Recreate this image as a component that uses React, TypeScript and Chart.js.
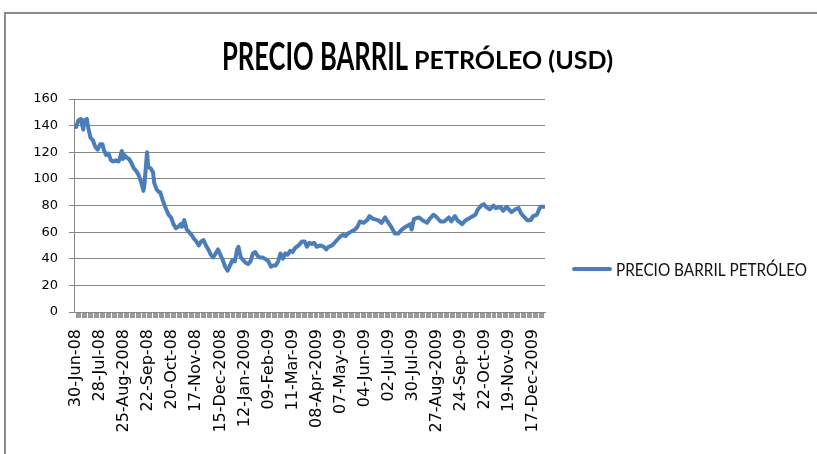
import React, { useEffect, useRef } from 'react';
import { Chart, registerables } from 'chart.js';

Chart.register(...registerables);

const titleMain = 'PRECIO BARRIL';
const titleSub = 'PETRÓLEO (USD)';
const seriesName = 'PRECIO BARRIL PETRÓLEO';

const tickLabels = [
  '30-Jun-08', '28-Jul-08', '25-Aug-2008', '22-Sep-08', '20-Oct-08',
  '17-Nov-08', '15-Dec-2008', '12-Jan-2009', '09-Feb-09', '11-Mar-09',
  '08-Apr-2009', '07-May-09', '04-Jun-09', '02-Jul-09', '30-Jul-09',
  '27-Aug-2009', '24-Sep-09', '22-Oct-09', '19-Nov-09', '17-Dec-2009',
];
const LABEL_EVERY = 20;
const TOTAL_DAYS = 390;

const yTicks = [0, 20, 40, 60, 80, 100, 120, 140, 160];

// trading-day index (0 = 30-Jun-08) and price in USD
const dayIndex = [
  0, 2, 4, 6, 7, 9, 10, 12, 14, 16, 18, 20, 22, 23, 25, 27, 29, 31, 33, 35,
  36, 38, 39, 40, 42, 44, 46, 48, 50, 52, 54, 56, 57, 59, 60, 62, 64, 65, 67, 69,
  70, 72, 75, 77, 79, 81, 83, 85, 87, 88, 90, 92, 94, 96, 98, 100, 102, 104, 106, 108,
  110, 112, 114, 116, 118, 120, 122, 124, 126, 128, 130, 132, 134, 135, 137, 139, 141, 143, 145, 147,
  149, 151, 153, 155, 157, 160, 162, 164, 166, 168, 170, 172, 174, 176, 178, 180, 182, 185, 188, 190,
  192, 194, 196, 198, 200, 203, 206, 208, 210, 213, 215, 218, 220, 222, 224, 226, 228, 230, 232, 234,
  236, 239, 242, 244, 247, 251, 254, 257, 259, 262, 265, 268, 271, 274, 278, 279, 281, 285, 288, 292,
  294, 297, 299, 303, 306, 310, 312, 315, 317, 321, 324, 328, 332, 334, 337, 339, 341, 344, 347, 349,
  353, 355, 358, 362, 365, 368, 370, 372, 375, 378, 380, 383, 386, 388, 389,
];
const price = [
  139, 144, 145, 137, 144, 145, 139, 131, 129, 124, 122, 126, 126, 122, 118, 119, 114, 113, 114, 113,
  114, 121, 115, 118, 116, 115, 112, 108, 106, 103, 98, 91, 97, 120, 109, 108, 105, 97, 92, 90,
  90, 84, 77, 73, 71, 66, 63, 64, 66, 64, 69, 62, 60, 58, 55, 53, 50, 53, 54, 50,
  47, 43, 41, 44, 47, 43, 39, 34, 31, 35, 39, 38, 47, 49, 41, 39, 37, 36, 38, 44,
  45, 42, 41, 41, 40, 38, 34, 35, 35, 38, 44, 40, 44, 43, 46, 45, 48, 50, 53, 53,
  49, 52, 51, 52, 49, 50, 49, 47, 49, 50, 52, 55, 57, 58, 57, 59, 60, 61, 62, 64,
  68, 67, 69, 72, 70, 69, 67, 71, 68, 64, 59, 59, 62, 64, 66, 62, 70, 71, 69, 67,
  70, 73, 72, 68, 68, 71, 68, 72, 69, 66, 69, 71, 73, 77, 80, 81, 79, 77, 80, 78,
  79, 76, 79, 75, 77, 78, 74, 72, 69, 69, 72, 73, 79, 79, 79,
];

const LINE_COLOR = '#4A7EBB';
const GRID_COLOR = '#878787';

function drawFitted(
  ctx: CanvasRenderingContext2D,
  text: string,
  font: string,
  x: number,
  baseline: number,
  targetW: number,
  capH: number,
  color: string,
) {
  ctx.save();
  ctx.font = font;
  ctx.textAlign = 'left';
  ctx.textBaseline = 'alphabetic';
  const w = ctx.measureText(text).width;
  const h = ctx.measureText('H').actualBoundingBoxAscent || 28;
  ctx.translate(x, baseline);
  ctx.scale(targetW / w, capH / h);
  ctx.fillStyle = color;
  ctx.fillText(text, 0, 0);
  ctx.restore();
}

const decorPlugin = {
  id: 'decor',
  beforeDraw(chart: any) {
    const ctx = chart.ctx as CanvasRenderingContext2D;
    ctx.save();
    ctx.fillStyle = '#ffffff';
    ctx.fillRect(0, 0, chart.width, chart.height);
    ctx.strokeStyle = '#8a8a8a';
    ctx.lineWidth = 2;
    ctx.beginPath();
    ctx.moveTo(5, chart.height);
    ctx.lineTo(5, 13);
    ctx.lineTo(chart.width, 13);
    ctx.stroke();
    ctx.restore();
  },
  afterDraw(chart: any) {
    const ctx = chart.ctx as CanvasRenderingContext2D;
    drawFitted(ctx, titleMain, 'bold 40px Lato', 222, 70, 186, 27, '#000');
    drawFitted(ctx, titleSub, 'bold 40px Lato', 414, 69, 199, 18, '#000');
    ctx.save();
    ctx.strokeStyle = LINE_COLOR;
    ctx.lineWidth = 4;
    ctx.lineCap = 'round';
    ctx.beginPath();
    ctx.moveTo(574, 269);
    ctx.lineTo(610, 269);
    ctx.stroke();
    ctx.restore();
    drawFitted(ctx, seriesName, '40px Lato', 616, 275.5, 191, 13, '#111');
  },
};

export default function App() {
  const ref = useRef<HTMLCanvasElement | null>(null);
  useEffect(() => {
    const canvas = ref.current;
    if (!canvas) return;
    const chart = new Chart(canvas, {
      type: 'line',
      data: {
        datasets: [
          {
            label: seriesName,
            data: dayIndex.map((x, k) => ({ x, y: price[k] })),
            borderColor: LINE_COLOR,
            backgroundColor: LINE_COLOR,
            borderWidth: 4,
            pointRadius: 0,
            tension: 0,
            borderJoinStyle: 'round',
            borderCapStyle: 'round',
            fill: false,
          },
        ],
      },
      options: {
        responsive: false,
        animation: false,
        devicePixelRatio: 1,
        layout: { padding: { left: 0, top: 99, right: 272, bottom: 0 } },
        plugins: {
          legend: { display: false },
          title: { display: false },
          tooltip: { enabled: false },
        },
        scales: {
          x: {
            type: 'linear',
            min: -1.7,
            max: 389.9,
            afterBuildTicks: (s: any) => {
              s.ticks = Array.from({ length: TOTAL_DAYS }, (_, i) => ({ value: i }));
            },
            afterFit: (s: any) => {
              s.height = 142;
            },
            grid: { drawOnChartArea: false, drawTicks: true, tickLength: 6, color: '#9a9a9a' },
            border: { display: true, color: GRID_COLOR },
            ticks: {
              autoSkip: false,
              maxRotation: 90,
              minRotation: 90,
              padding: 11,
              color: '#000',
              font: { family: 'DejaVu Sans', size: 16 },
              callback: (v: any) => {
                const n = Number(v);
                return n % LABEL_EVERY === 0 ? tickLabels[n / LABEL_EVERY] ?? '' : '';
              },
            },
          },
          y: {
            min: 0,
            max: 160,
            afterBuildTicks: (s: any) => {
              s.ticks = yTicks.map((value) => ({ value }));
            },
            afterFit: (s: any) => {
              s.width = 74;
            },
            grid: { color: GRID_COLOR, tickLength: 5 },
            border: { display: true, color: GRID_COLOR },
            ticks: {
              padding: 11,
              color: '#000',
              font: { family: 'DejaVu Sans', size: 13 },
            },
          },
        },
      } as any,
      plugins: [decorPlugin],
    });
    return () => chart.destroy();
  }, []);
  return (
    <div style={{ position: 'absolute', left: 0, top: 0, width: 817, height: 454 }}>
      <canvas ref={ref} width={817} height={454} style={{ width: 817, height: 454, display: 'block' }} />
    </div>
  );
}
